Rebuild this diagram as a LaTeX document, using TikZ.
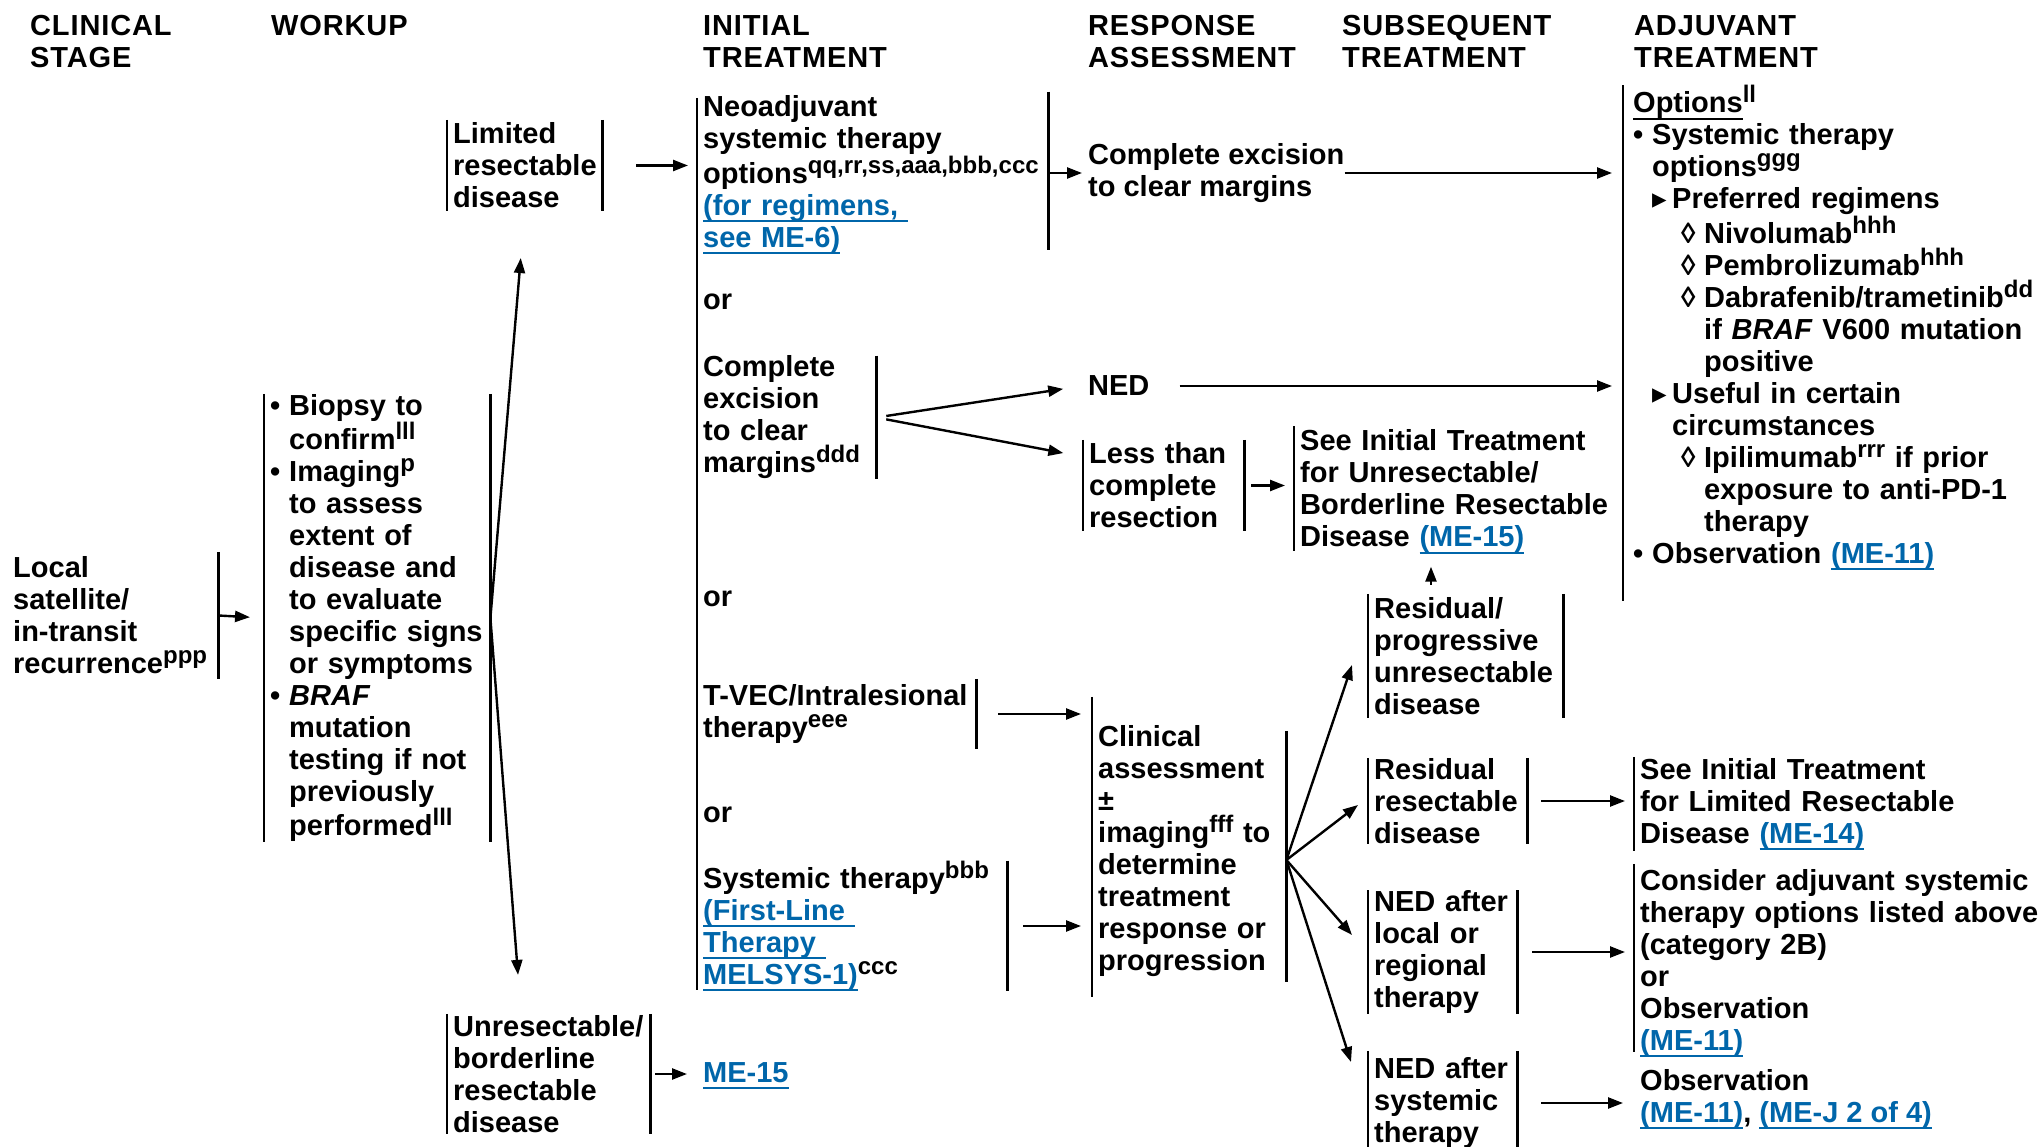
\documentclass[tikz,border=0pt]{standalone}
\usepackage{fontspec}
\setmainfont{Liberation Sans}
\newfontfamily\symfont{DejaVu Sans}
\newfontfamily\hdrfont[LetterSpace=3]{Liberation Sans}
\usetikzlibrary{arrows.meta}

\definecolor{linkblue}{RGB}{0,102,170}
\newcommand{\bodyfont}{\fontsize{29}{32}\selectfont\bfseries}
\newcommand{\sups}[1]{\raisebox{10pt}{\fontsize{24}{24}\selectfont #1}}
\newcommand{\undl}[1]{\setbox0\hbox{#1}\rlap{\rule[-7pt]{\wd0}{2pt}}\box0}
\newcommand{\lnk}[1]{\textcolor{linkblue}{\undl{#1}}}
\newcommand{\bul}{\makebox[19pt][l]{•}}
\newcommand{\indA}{\hspace*{19pt}}
\newcommand{\indB}{\hspace*{39pt}}
\newcommand{\indC}{\hspace*{71pt}}
\newcommand{\tri}{\makebox[20pt][l]{\symfont ▸}}
\newcommand{\loz}{\hspace*{48pt}\makebox[23pt][l]{◊}}
\hyphenpenalty=10000

\begin{document}
\begin{tikzpicture}[x=1pt, y=-1pt,
    every node/.style={font=\bodyfont, inner xsep=6pt, inner ysep=0pt, anchor=west, align=left},
    hdr/.style={anchor=north west, inner sep=0pt, font=\hdrfont\fontsize{29}{32}\selectfont\bfseries}]
    \useasboundingbox (0,0) rectangle (2043,1147);

    % column heads
    \node[hdr] (h1) at (30,15) {CLINICAL\\STAGE};
    \node[hdr] (h2) at (271,15) {WORKUP};
    \node[hdr] (h3) at (703,15) {INITIAL\\TREATMENT};
    \node[hdr] (h4) at (1088,15) {RESPONSE\\ASSESSMENT};
    \node[hdr] (h5) at (1342,15) {SUBSEQUENT\\TREATMENT};
    \node[hdr] (h6) at (1634,15) {ADJUVANT\\TREATMENT};

    % stage and workup
    \node[text width=199pt, minimum height=127pt] (loc) at (7,615.5)
        {Local\\satellite/\\in-transit\\recurrence\sups{ppp}};
    \node[text width=214pt, minimum height=440pt] (work) at (264,618)
        {\bul Biopsy to\\\indA confirm\sups{lll}\\\bul Imaging\sups{p}\\\indA to assess\\\indA extent of\\
         \indA disease and\\\indA to evaluate\\\indA specific signs\\\indA or symptoms\\\bul\textit{BRAF}\\
         \indA mutation\\\indA testing if not\\\indA previously\\\indA performed\sups{lll}};
    \node[text width=143pt, minimum height=91pt] (lim) at (447,165.5) {Limited\\resectable\\disease};
    \node[text width=191pt, minimum height=120pt] (une) at (447,1074)
        {Unresectable/\\borderline\\resectable\\disease};

    % initial treatment
    \coordinate (itop) at (697,98);
    \coordinate (ibot) at (697,990);
    \node[text width=339pt, minimum height=147pt] (neo) at (697,175)
        {Neoadjuvant\\systemic therapy\\options\sups{qq,rr,ss,aaa,bbb,ccc}\\\lnk{(for regimens,~}\\\lnk{see ME-6)}};
    \node (or1) at (697,302) {or};
    \node[text width=167pt, minimum height=113pt] (cex) at (697,417.5)
        {Complete\\excision\\to clear\\margins\sups{ddd}};
    \node (or2) at (697,599) {or};
    \node[text width=267pt, minimum height=70pt] (tvec) at (697,714)
        {T-VEC/Intralesional\\therapy\sups{eee}};
    \node (or3) at (697,815) {or};
    \node[text width=298pt, minimum height=126pt] (sys) at (697,926)
        {Systemic therapy\sups{bbb}\\\lnk{(First-Line~}\\\lnk{Therapy~}\\\lnk{MELSYS-1)}\sups{ccc}};
    \node (me15) at (697,1076) {\lnk{ME-15}};

    % response assessment
    \node (cex2) at (1082,173) {Complete excision\\to clear margins};
    \node (ned) at (1082,386) {NED};
    \node[text width=149pt, minimum height=91pt] (less) at (1083,485.5) {Less than\\complete\\resection};
    \node[text width=320pt, minimum height=117pt] (seeu) at (1294,491.5)
        {See Initial Treatment\\for Unresectable/\\Borderline Resectable\\Disease \lnk{(ME-15)}};
    \node[text width=182pt, minimum height=300pt] (ca) at (1092,851)
        {Clinical\\assessment\\±\\imaging\sups{fff} to\\determine\\treatment\\response or\\progression};

    % subsequent treatment
    \node[text width=183pt, minimum height=124pt] (res1) at (1368,656)
        {Residual/\\progressive\\unresectable\\disease};
    \node[text width=147pt, minimum height=86pt] (res2) at (1368,801) {Residual\\resectable\\disease};
    \node[text width=137pt, minimum height=121pt] (ned1) at (1368,952)
        {NED after\\local or\\regional\\therapy};
    \node[text width=137pt, minimum height=98pt] (ned2) at (1368,1103) {NED after\\systemic\\therapy};

    % adjuvant treatment
    \node[inner xsep=10pt, text width=400pt, minimum height=472pt] (adj) at (1623,328)
        {\undl{Options}\sups{ll}\\
         \bul Systemic therapy\\
         \indA options\sups{ggg}\\
         \indA\tri Preferred regimens\\
         \loz Nivolumab\sups{hhh}\\
         \loz Pembrolizumab\sups{hhh}\\
         \loz Dabrafenib/trametinib\sups{dd}\\
         \indC if \textit{BRAF} V600 mutation\\
         \indC positive\\
         \indA\tri Useful in certain\\
         \indB circumstances\\
         \loz Ipilimumab\sups{rrr} if prior\\
         \indC exposure to anti-PD-1\\
         \indC therapy\\
         \bul Observation \lnk{(ME-11)}};
    \node[text width=390pt, minimum height=94pt] (seel) at (1634,804)
        {See Initial Treatment\\for Limited Resectable\\Disease \lnk{(ME-14)}};
    \node[text width=400pt, minimum height=183pt] (cons) at (1634,963)
        {Consider adjuvant systemic\\therapy options listed above\\(category 2B)\\or\\Observation\\\lnk{(ME-11)}};
    \node (obs) at (1634,1099) {Observation\\\lnk{(ME-11)}, \lnk{(ME-J 2 of 4)}};

    % bars
    \begin{scope}[every edge/.style={draw, line width=2.2pt}]
        \path
            (loc.north east) edge (loc.south east)
            (work.north west) edge (work.south west)
            (work.north east) edge (work.south east)
            (lim.north west) edge (lim.south west)
            (lim.north east) edge (lim.south east)
            (une.north west) edge (une.south west)
            (une.north east) edge (une.south east);
        \path
            (itop) edge (ibot)
            ([yshift=4pt]neo.north east) edge ([yshift=4pt]neo.south east)
            (cex.north east) edge (cex.south east)
            (tvec.north east) edge (tvec.south east)
            (sys.north east) edge (sys.south east);
        \path
            (less.north west) edge (less.south west)
            (less.north east) edge (less.south east)
            ([yshift=3pt]seeu.north west) edge ([yshift=3pt]seeu.south west)
            ([yshift=4pt]ca.north west) edge ([yshift=4pt]ca.south west)
            ([yshift=-30pt]ca.north east) edge ([yshift=19pt]ca.south east);
        \path
            (res1.north west) edge (res1.south west)
            (res1.north east) edge (res1.south east)
            (res2.north west) edge (res2.south west)
            (res2.north east) edge (res2.south east)
            (ned1.north west) edge (ned1.south west)
            (ned1.north east) edge (ned1.south east)
            ([yshift=3pt]ned2.north west) edge (ned2.south west)
            ([yshift=3pt]ned2.north east) edge (ned2.south east);
        \path
            (adj.north west) edge ([yshift=-30pt]adj.south west)
            (seel.north west) edge (seel.south west)
            ([yshift=5pt]cons.north west) edge ([yshift=5pt]cons.south west);
    \end{scope}

    % arrows
    \coordinate (fan) at ([yshift=-9pt]ca.east);
    \begin{scope}[every edge/.style={draw, line width=2.4pt, -{Triangle[length=15pt,width=11pt]}}]
        \path
            (loc.east) edge[shorten >=14pt] (work.west)
            (work.east) edge[shorten >=47pt] (lim.south)
            (work.east) edge[shorten >=39pt] ([xshift=74pt]une.north west)
            (lim.east) edge[shorten <=34pt, shorten >=9pt] (lim.east -| neo.west)
            (une.east) edge[shorten <=5pt, shorten >=10pt] (une.east -| me15.west);
        \path
            (cex2.west -| neo.east) edge[shorten <=2pt] (cex2.west)
            (cex2.east) edge[shorten <=-6pt, shorten >=11pt] (cex2.east -| adj.west)
            (cex.east) edge[shorten <=10pt, shorten >=19pt] (ned.west)
            (cex.east) edge[shorten <=10pt, shorten >=20pt] ([yshift=-17pt]less.north west)
            (ned.east) edge[shorten <=24pt, shorten >=11pt] (ned.east -| adj.west)
            (less.east) edge[shorten <=7pt, shorten >=9pt] (less.east -| seeu.west)
            (tvec.east) edge[shorten <=22pt, shorten >=11pt] (tvec.east -| ca.west)
            (sys.east) edge[shorten <=16pt, shorten >=11pt] (sys.east -| ca.west);
        \path
            (fan) edge ([xshift=-16pt,yshift=-9pt]res1.west)
            (fan) edge ([xshift=-10pt,yshift=-4pt]res2.west)
            (fan) edge ([xshift=-16pt,yshift=17pt]ned1.west)
            (fan) edge ([xshift=-17pt,yshift=41pt]ned2.west)
            ([xshift=63pt]res1.north west) edge[shorten <=9pt, shorten >=13pt] ([xshift=63pt]res1.north west |- seeu.south)
            (res2.east) edge[shorten <=14pt, shorten >=9pt] (res2.east -| seel.west)
            (ned1.east) edge[shorten <=15pt, shorten >=9pt] (ned1.east -| cons.west)
            (ned2.east) edge[shorten <=24pt, shorten >=11pt] (ned2.east -| obs.west);
    \end{scope}
\end{tikzpicture}
\end{document}
